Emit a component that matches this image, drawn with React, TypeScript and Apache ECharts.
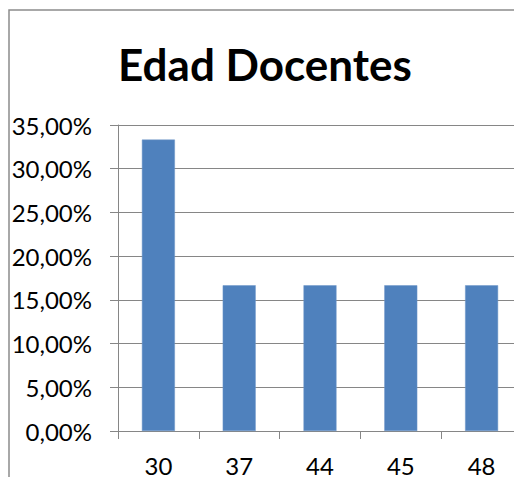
import React, { useEffect, useRef } from "react";
import * as echarts from "echarts";

const categories = ["30", "37", "44", "45", "48"];
const values = [33.33, 16.67, 16.67, 16.67, 16.67];
const chartTitle = "Edad Docentes";

export default function App() {
  const ref = useRef<HTMLDivElement>(null);
  useEffect(() => {
    if (!ref.current) return;
    const chart = echarts.init(ref.current, undefined, { renderer: "svg" });
    chart.setOption({
      animation: false,
      backgroundColor: "#ffffff",
      textStyle: { fontFamily: "Lato" },
      title: {
        text: chartTitle,
        left: "center",
        top: 29,
        textStyle: { fontFamily: "Lato", fontWeight: "bold", fontSize: 44, color: "#000" },
      },
      graphic: [
        {
          type: "rect",
          shape: { x: 1, y: 2, width: 700, height: 700 },
          style: { fill: "none", stroke: "#8c8c8c", lineWidth: 1.5 },
          silent: true,
        },
      ],
      grid: { left: 110, top: 117, width: 405, height: 306, containLabel: false },
      xAxis: {
        type: "category",
        data: categories,
        axisLine: { lineStyle: { color: "#868686", width: 1 } },
        axisTick: { show: true, length: 8, alignWithLabel: false, lineStyle: { color: "#868686" } },
        axisLabel: { color: "#000", fontSize: 24, fontFamily: "Lato", margin: 22 },
        splitLine: { show: false },
      },
      yAxis: {
        type: "value",
        min: 0,
        max: 35,
        interval: 5,
        axisLine: { show: true, lineStyle: { color: "#868686", width: 1 } },
        axisTick: { show: true, length: 8, lineStyle: { color: "#868686" } },
        axisLabel: {
          color: "#000",
          fontSize: 24,
          fontFamily: "Lato",
          margin: 26,
          formatter: (v: number) => v.toFixed(2).replace(".", ",") + "%",
        },
        splitLine: { show: true, lineStyle: { color: "#868686", width: 1.2 } },
      },
      series: [
        {
          type: "bar",
          data: values,
          barWidth: 33,
          itemStyle: { color: "#4F81BD", borderColor: "#6f97c9", borderWidth: 0.5 },
        },
      ],
    });
    return () => chart.dispose();
  }, []);
  return <div ref={ref} style={{ width: 514, height: 469 }} />;
}
